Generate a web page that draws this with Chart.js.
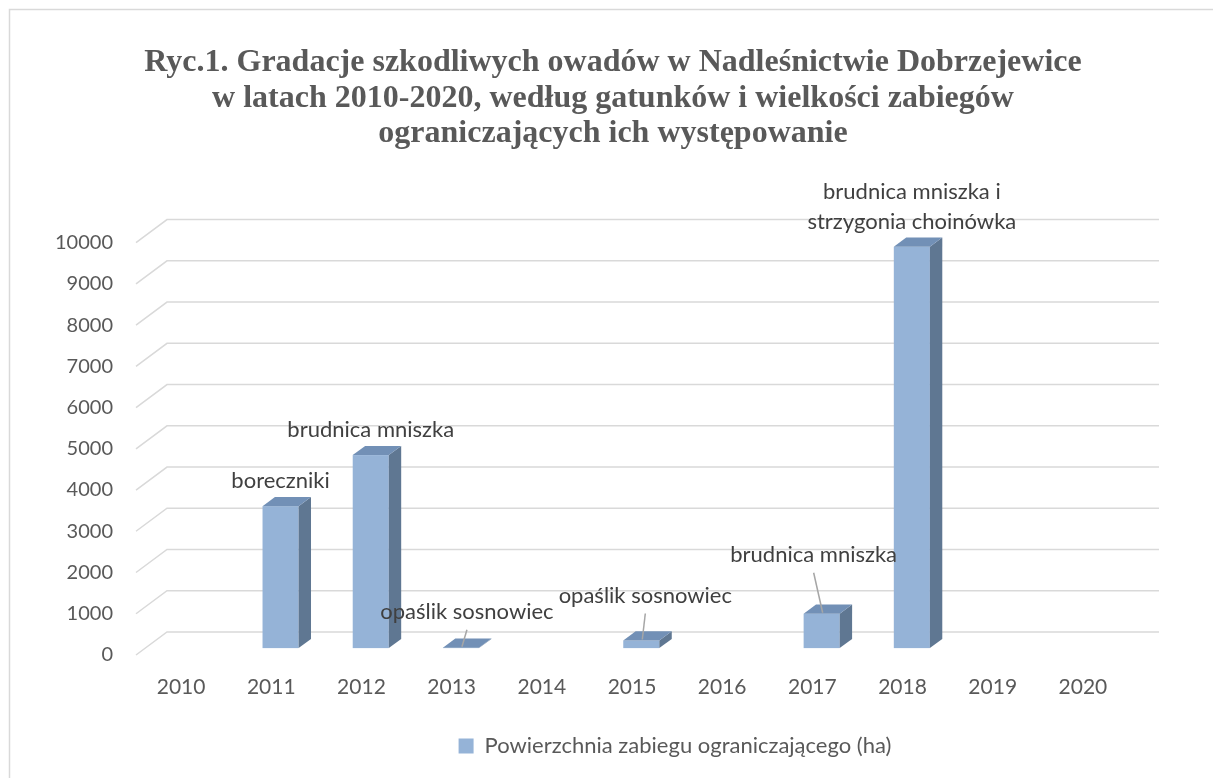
<!DOCTYPE html>
<html>
<head>
<meta charset="utf-8">
<script src="https://cdn.jsdelivr.net/npm/chart.js"></script>
<style>
    body { margin: 0; background: #ffffff; }
    canvas { display: block; }
</style>
</head>
<body>
<canvas id="gradacjeChart" width="1213" height="778"></canvas>
<script>
// Years on the category axis
const years = ['2010', '2011', '2012', '2013', '2014', '2015', '2016', '2017', '2018', '2019', '2020'];
// Powierzchnia zabiegu ograniczającego (ha), empty years are null
const areaValues = [null, 3440, 4680, 10, null, 185, null, 833, 9730, null, null];
// Species shown above each bar
const speciesLabels = [
    null,
    ['boreczniki'],
    ['brudnica mniszka'],
    ['opaślik sosnowiec'],
    null,
    ['opaślik sosnowiec'],
    null,
    ['brudnica mniszka'],
    ['brudnica mniszka i', 'strzygonia choinówka'],
    null,
    null
];

// 3D look: depth of the floor and where the bars sit inside it
const depthX = 31, depthY = -23;
const barFront = 0.3, barBack = 0.7;

// labels that Excel moved away from the bar get a leader line
const movedLabels = { 3: [6, -36], 5: [4, -45], 7: [-8, -59] };

const labelFont = '22px Lato';

const chart3d = {
    id: 'chart3d',
    afterLayout(chart) {
        // Excel keeps the legend a bit right of centre
        chart.legend.left += 62;
        chart.legend.right += 62;
    },
    beforeDraw(chart) {
        const ctx = chart.ctx;
        ctx.save();
        ctx.strokeStyle = '#d9d9d9';
        ctx.lineWidth = 1.5;
        ctx.beginPath();
        ctx.moveTo(9.5, chart.height);
        ctx.lineTo(9.5, 9.5);
        ctx.lineTo(chart.width, 9.5);
        ctx.stroke();
        ctx.restore();
    },
    beforeDatasetsDraw(chart) {
        const { ctx, chartArea } = chart;
        const yScale = chart.scales.y;

        // back wall gridlines with the slanted side wall
        ctx.save();
        ctx.strokeStyle = '#d9d9d9';
        ctx.lineWidth = 1.5;
        yScale.ticks.forEach(tick => {
            const py = yScale.getPixelForValue(tick.value);
            ctx.beginPath();
            ctx.moveTo(chartArea.left, py);
            ctx.lineTo(chartArea.left + depthX, py + depthY);
            ctx.lineTo(chartArea.right + depthX, py + depthY);
            ctx.stroke();
        });

        // bars as boxes: front, right side, top
        const ox = depthX * barFront, oy = depthY * barFront;
        const dx = depthX * (barBack - barFront), dy = depthY * (barBack - barFront);
        chart.getDatasetMeta(0).data.forEach((bar, i) => {
            if (areaValues[i] == null) return;
            const p = bar.getProps(['x', 'y', 'base', 'width'], true);
            const l = p.x - p.width / 2 + ox, r = p.x + p.width / 2 + ox;
            const t = p.y + oy, b = p.base + oy;

            ctx.fillStyle = '#95b3d7';
            ctx.fillRect(l, t, r - l, b - t);

            ctx.fillStyle = '#5f7792';
            ctx.beginPath();
            ctx.moveTo(r, t);
            ctx.lineTo(r + dx, t + dy);
            ctx.lineTo(r + dx, b + dy);
            ctx.lineTo(r, b);
            ctx.closePath();
            ctx.fill();

            ctx.fillStyle = '#7290b6';
            ctx.beginPath();
            ctx.moveTo(l, t);
            ctx.lineTo(r, t);
            ctx.lineTo(r + dx, t + dy);
            ctx.lineTo(l + dx, t + dy);
            ctx.closePath();
            ctx.fill();
        });
        ctx.restore();
        return false; // default flat bars are not drawn
    },
    afterDraw(chart) {
        const ctx = chart.ctx;
        const ox = depthX * barFront, oy = depthY * barFront;
        ctx.save();
        ctx.font = labelFont;
        ctx.textAlign = 'center';
        ctx.textBaseline = 'middle';
        chart.getDatasetMeta(0).data.forEach((bar, i) => {
            const lines = speciesLabels[i];
            if (!lines) return;
            const fx = bar.x + ox, fy = bar.y + oy;
            const shift = movedLabels[i] || [0, -25];
            const lx = fx + shift[0], ly = fy + shift[1];

            if (movedLabels[i]) {
                ctx.strokeStyle = '#a6a6a6';
                ctx.lineWidth = 1.5;
                ctx.beginPath();
                ctx.moveTo(lx, ly + 18);
                ctx.lineTo(fx + 1, fy - 1);
                ctx.stroke();
            }

            ctx.fillStyle = '#404040';
            lines.forEach((line, k) => {
                ctx.fillText(line, lx, ly - (lines.length - 1 - k) * 30);
            });
        });
        ctx.restore();
    }
};

document.addEventListener('DOMContentLoaded', () => {
    const ctx = document.getElementById('gradacjeChart').getContext('2d');
    new Chart(ctx, {
        type: 'bar',
        data: {
            labels: years,
            datasets: [{
                label: 'Powierzchnia zabiegu ograniczającego (ha)',
                data: areaValues,
                backgroundColor: '#95b3d7',
                borderWidth: 0,
                categoryPercentage: 1,
                barPercentage: 0.4
            }]
        },
        options: {
            responsive: false,
            animation: false,
            events: [],
            layout: {
                padding: { left: 13, right: 0, top: 0, bottom: 11 }
            },
            plugins: {
                title: {
                    display: true,
                    text: [
                        'Ryc.1. Gradacje szkodliwych owadów w Nadleśnictwie Dobrzejewice',
                        'w latach 2010-2020, według gatunków i wielkości zabiegów',
                        'ograniczających ich występowanie'
                    ],
                    color: '#595959',
                    font: { family: 'Liberation Serif', size: 32, weight: 'bold', lineHeight: 1.11 },
                    padding: { top: 45, bottom: 91 }
                },
                legend: {
                    position: 'bottom',
                    labels: {
                        boxWidth: 15,
                        boxHeight: 15,
                        color: '#595959',
                        font: { family: 'Lato', size: 22 },
                        padding: 10
                    }
                },
                tooltip: { enabled: false }
            },
            scales: {
                x: {
                    grid: { display: false, drawTicks: false },
                    border: { display: false },
                    ticks: {
                        color: '#595959',
                        font: { family: 'Lato', size: 21 },
                        padding: 20
                    },
                    afterFit: scale => { scale.height = 70; }
                },
                y: {
                    min: 0,
                    max: 10000,
                    grid: { display: false, drawTicks: false },
                    border: { display: false },
                    ticks: {
                        stepSize: 1000,
                        color: '#595959',
                        font: { family: 'Lato', size: 20 },
                        padding: 23,
                        callback: value => String(value) // no thousands separator
                    },
                    afterFit: scale => { scale.width = 123; }
                },
                // empty axis on the right, only keeps room for the 3D depth
                yRight: {
                    type: 'linear',
                    position: 'right',
                    grid: { display: false, drawTicks: false },
                    border: { display: false },
                    ticks: { display: false },
                    afterFit: scale => { scale.width = 85; }
                }
            }
        },
        plugins: [chart3d]
    });
});
</script>
</body>
</html>
